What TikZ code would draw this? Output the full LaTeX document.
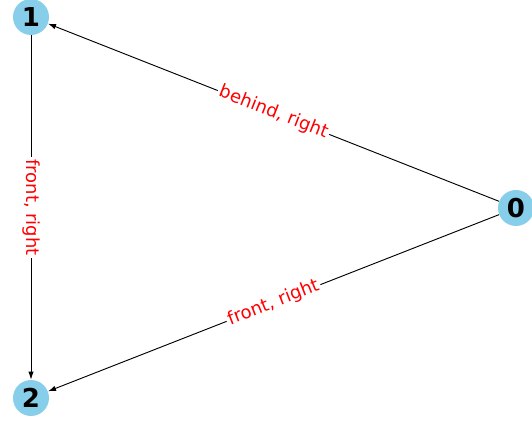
\documentclass[tikz,border=0pt]{standalone}
\usepackage{fontspec}
\setmainfont{DejaVu Sans}
\usetikzlibrary{arrows.meta}
\definecolor{skyb}{RGB}{135,206,235}
\begin{document}
\begin{tikzpicture}[x=0.75pt,y=0.75pt,
  vnode/.style={circle,fill=skyb,minimum size=27pt,inner sep=0pt,font=\fontsize{19.5pt}{19.5pt}\selectfont\bfseries},
  elabel/.style={fill=white,text=red,inner sep=1.5pt,font=\fontsize{13.5pt}{13.5pt}\selectfont},
  conn/.style={line width=0.7pt,-{Latex[length=6pt,width=4pt]}}]
\useasboundingbox (0,0) rectangle (532,421);
\node[vnode] (n1) at (31,404) {1};
\node[vnode] (n0) at (516,213) {0};
\node[vnode] (n2) at (31,23) {2};
\draw[conn] (n0) -- node[elabel,sloped] {behind, right} (n1);
\draw[conn] (n0) -- node[elabel,sloped] {front, right} (n2);
\draw[conn] (n1) -- node[elabel,rotate=-90] {front, right} (n2);
\end{tikzpicture}
\end{document}
